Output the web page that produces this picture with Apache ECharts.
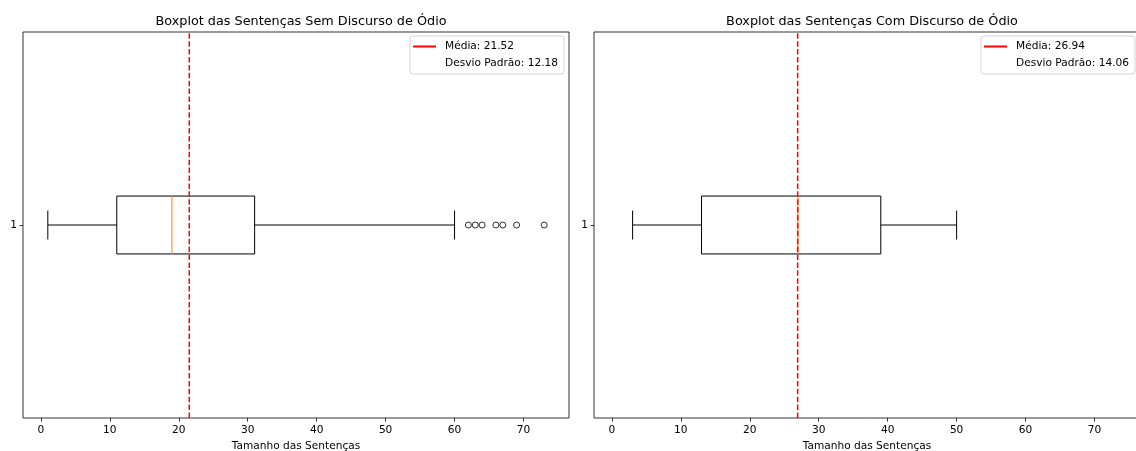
<!DOCTYPE html>
<html>
<head>
<meta charset="utf-8">
<script src="https://cdn.jsdelivr.net/npm/echarts@6/dist/echarts.min.js"></script>
<style>
  html, body { margin: 0; padding: 0; background: #fff; }
  #chart { width: 1136px; height: 451px; }
</style>
</head>
<body>
<div id="chart"></div>
<script>
// dados
const tickValues = [0, 10, 20, 30, 40, 50, 60, 70];
const titles = ['Boxplot das Sentenças Sem Discurso de Ódio', 'Boxplot das Sentenças Com Discurso de Ódio'];
const xLabel = 'Tamanho das Sentenças';

// [min, q1, mediana, q3, max]
const semStats = [1, 11, 19, 31, 60];
const semOutliers = [62, 63, 64, 66, 67, 69, 73];
const semMean = 21.52;
const semStd = 12.18;

const comStats = [3, 13, 27, 39, 50];
const comOutliers = [];
const comMean = 26.94;
const comStd = 14.06;

const FONT = 'DejaVu Sans';
const FS = 10.6;

function renderBox(params, api) {
    let y = api.value(5);
    let pMin = api.coord([api.value(0), y]);
    let pQ1 = api.coord([api.value(1), y]);
    let pMed = api.coord([api.value(2), y]);
    let pQ3 = api.coord([api.value(3), y]);
    let pMax = api.coord([api.value(4), y]);
    let h = api.size([0, 0.15])[1];
    let line = { stroke: '#000', lineWidth: 1 };
    return {
        type: 'group',
        children: [
            { type: 'line', shape: { x1: pMin[0], y1: pMin[1], x2: pQ1[0], y2: pQ1[1] }, style: line },
            { type: 'line', shape: { x1: pQ3[0], y1: pQ3[1], x2: pMax[0], y2: pMax[1] }, style: line },
            { type: 'line', shape: { x1: pMin[0], y1: pMin[1] - h / 4, x2: pMin[0], y2: pMin[1] + h / 4 }, style: line },
            { type: 'line', shape: { x1: pMax[0], y1: pMax[1] - h / 4, x2: pMax[0], y2: pMax[1] + h / 4 }, style: line },
            { type: 'rect', shape: { x: pQ1[0], y: pQ1[1] - h / 2, width: pQ3[0] - pQ1[0], height: h },
              style: { fill: 'none', stroke: '#000', lineWidth: 1 } },
            { type: 'line', shape: { x1: pMed[0], y1: pMed[1] - h / 2, x2: pMed[0], y2: pMed[1] + h / 2 },
              style: { stroke: '#ff7f0e', lineWidth: 1 } }
        ]
    };
}

function panel(i, stats, outliers, mean, std) {
    let meanName = 'Média: ' + mean.toFixed(2);
    let stdName = 'Desvio Padrão: ' + std.toFixed(2);
    let series = [
        {
            type: 'custom',
            xAxisIndex: i, yAxisIndex: i,
            renderItem: renderBox,
            data: [stats.concat([1])],
            silent: true, z: 2
        },
        {
            type: 'scatter',
            xAxisIndex: i, yAxisIndex: i,
            data: outliers.map(v => [v, 1]),
            symbol: 'circle',
            symbolSize: 6,
            itemStyle: { color: 'rgba(0,0,0,0)', borderColor: '#000', borderWidth: 1 },
            silent: true, z: 3
        },
        {
            type: 'line',
            name: meanName,
            xAxisIndex: i, yAxisIndex: i,
            data: [[mean, 0.5], [mean, 1.5]],
            symbol: 'none',
            itemStyle: { color: '#ff0000' },
            lineStyle: { color: '#ff0000', width: 1.5, type: [5.5, 2.4] },
            silent: true, z: 4
        },
        {
            type: 'line',
            name: stdName,
            xAxisIndex: i, yAxisIndex: i,
            data: [],
            symbol: 'none'
        }
    ];
    let legend = {
        orient: 'vertical',
        top: 36,
        right: i === 0 ? 572 : 1,
        padding: [4, 6, 4, 3],
        itemGap: 4,
        itemWidth: 23,
        itemHeight: 2,
        backgroundColor: '#fff',
        borderColor: '#d4d4d4',
        borderWidth: 1,
        borderRadius: 3,
        selectedMode: false,
        textStyle: { fontFamily: FONT, fontSize: FS, color: '#000', lineHeight: 13, padding: [0, 0, 0, 4] },
        data: [
            { name: meanName, icon: 'rect', itemStyle: { color: '#ff0000' } },
            { name: stdName, icon: 'none' }
        ]
    };
    return { series, legend };
}

const left = panel(0, semStats, semOutliers, semMean, semStd);
const right = panel(1, comStats, comOutliers, comMean, comStd);

const grids = [
    { left: 23, top: 32, width: 546, height: 386 },
    { left: 594, top: 32, width: 546, height: 386 }
];

function xAxis(i) {
    return {
        type: 'value', gridIndex: i,
        min: -2.6, max: 76.6,
        name: xLabel, nameLocation: 'middle', nameGap: 21,
        nameTextStyle: { fontFamily: FONT, fontSize: FS, color: '#000' },
        axisLine: { show: false, onZero: false },
        axisTick: { show: true, length: 3.5, customValues: tickValues, lineStyle: { color: '#000', width: 0.8 } },
        axisLabel: { customValues: tickValues, margin: 7, fontFamily: FONT, fontSize: FS, color: '#000' },
        splitLine: { show: false }
    };
}

function yAxis(i) {
    return {
        type: 'value', gridIndex: i,
        min: 0.5, max: 1.5,
        axisLine: { show: false, onZero: false },
        axisTick: { show: true, length: 3.5, customValues: [1], lineStyle: { color: '#000', width: 0.8 } },
        axisLabel: { customValues: [1], margin: 6, fontFamily: FONT, fontSize: FS, color: '#000' },
        splitLine: { show: false }
    };
}

const chart = echarts.init(document.getElementById('chart'), null, { renderer: 'canvas' });
chart.setOption({
    backgroundColor: '#fff',
    animation: false,
    title: [
        { text: titles[0], left: 296, top: 10, textAlign: 'center',
          textStyle: { fontFamily: FONT, fontSize: 12.8, fontWeight: 'normal', color: '#000' } },
        { text: titles[1], left: 867, top: 10, textAlign: 'center',
          textStyle: { fontFamily: FONT, fontSize: 12.8, fontWeight: 'normal', color: '#000' } }
    ],
    grid: grids.map(g => Object.assign({
        show: true, borderColor: '#000', borderWidth: 0.8, backgroundColor: '#fff',
        containLabel: false, outerBoundsMode: 'none'
    }, g)),
    xAxis: [xAxis(0), xAxis(1)],
    yAxis: [yAxis(0), yAxis(1)],
    legend: [
        Object.assign({ id: 'l0' }, left.legend),
        Object.assign({ id: 'l1' }, right.legend)
    ],
    series: left.series.concat(right.series)
});
</script>
</body>
</html>
